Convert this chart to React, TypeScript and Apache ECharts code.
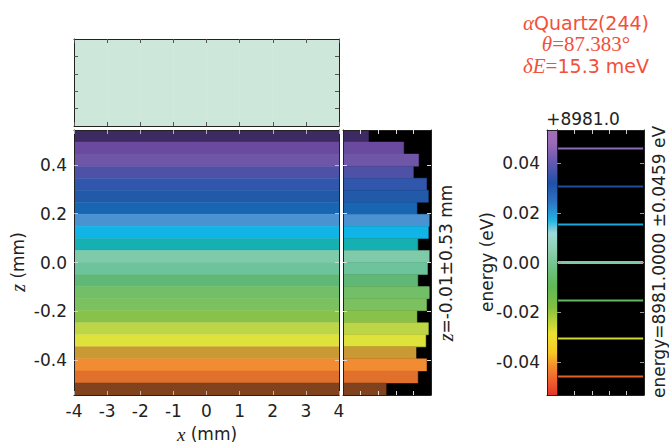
import React, { useEffect, useRef } from "react";
import * as echarts from "echarts";

// Axis limits
const xRange = [-4, 4];
const zRange = [-0.543, 0.543];
const energyRange = [-0.0533, 0.0533];
const fracRange = [0, 1];

// Tick positions
const xTicks = [-4, -3, -2, -1, 0, 1, 2, 3, 4];
const zTicks = [-0.4, -0.2, 0, 0.2, 0.4];
const energyTicks = [-0.04, -0.02, 0, 0.02, 0.04];
const fracTicks = [0.2, 0.4, 0.6, 0.8];

// Horizontal (x) histogram, normalised
const xBinEdges = [-4, -3, -2, -1, 0, 1, 2, 3, 4];
const xCounts = [1, 1, 1, 1, 1, 1, 1, 1];
const xHistColor = "#cde8da";

// Vertical (z) histogram, bins listed from top to bottom, normalised
const zCounts = [
  0.29, 0.69, 0.86, 0.8, 0.95, 0.97, 0.84, 0.98, 0.97, 0.85, 0.98,
  0.96, 0.85, 0.98, 0.95, 0.84, 0.97, 0.94, 0.83, 0.95, 0.85, 0.49,
];
const zColors = [
  "#3e2a62", "#6a4a9f", "#6f56a7", "#4f51a6", "#3057ab", "#2259a9",
  "#1865b2", "#4a92d2", "#11b4e6", "#14b0b2", "#7ecaa9", "#6dc39b",
  "#5fb876", "#72bf68", "#7bc160", "#89c24b", "#bdd647", "#dee23b",
  "#c99a33", "#f28c33", "#e0702c", "#80431d",
];

// Energy lines (eV relative to 8981.0)
const energies = [0.0459, 0.0306, 0.0153, 0, -0.0153, -0.0306, -0.0459];
const energyColors = [
  "#8c6cb8", "#1f4f9e", "#1ba9dd", "#7cc9a2", "#62b862", "#cfd833", "#e0622a",
];

// Colour bar stops, from the lowest to the highest energy
const colorbarOffsets = [0, 0.05, 0.11, 0.16, 0.23, 0.33, 0.41, 0.48, 0.55, 0.61, 0.66, 0.73, 0.8, 0.885, 0.95, 1];
const colorbarColors = [
  "#e3362a", "#ef5d2e", "#f28f2c", "#f8c824", "#ece231", "#84c040",
  "#5fb856", "#70c184", "#8fd0b2", "#9fd8d6", "#22b2e2", "#2f72c0",
  "#2050a8", "#6a5ab0", "#9a6ab8", "#a070ba",
];

const SANS = "DejaVu Sans";
const SERIF = "Liberation Serif";
const TITLE = "#f2503a";

const zStep = (zRange[1] - zRange[0]) / zCounts.length;
const zBins = zCounts.map((c, i) => [zRange[1] - i * zStep, zRange[1] - (i + 1) * zStep, c]);
const xBins = xCounts.map((c, i) => [xBinEdges[i], xBinEdges[i + 1], c]);

const border = { show: true, onZero: false, lineStyle: { color: "#222", width: 1 } };

function axis(gridIndex: number, position: string, range: number[], tickValues: number[], tickColor: string, extra: any = {}) {
  return {
    type: "value",
    gridIndex,
    position,
    min: range[0],
    max: range[1],
    z: 5,
    axisLine: border,
    splitLine: { show: false },
    axisTick: {
      show: tickValues.length > 0,
      inside: true,
      length: 4,
      customValues: tickValues,
      lineStyle: { color: tickColor, width: 1 },
    },
    axisLabel: { show: false },
    ...extra,
  };
}

export default function App() {
  const ref = useRef<HTMLDivElement>(null);

  useEffect(() => {
    if (!ref.current) return;
    const chart = echarts.init(ref.current, undefined, { renderer: "svg" });

    const tickLabel = (digits: number, values: number[]) => ({
      show: true,
      customValues: values,
      fontFamily: SANS,
      fontSize: 17,
      color: "#222",
      margin: 7,
      formatter: (v: number) => v.toFixed(digits),
    });

    const rect = (p1: number[], p2: number[], color: string) => ({
      type: "rect",
      shape: { x: p1[0], y: p1[1], width: p2[0] - p1[0], height: p2[1] - p1[1] },
      style: { fill: color, stroke: color, lineWidth: 0.5 },
    });

    const option: any = {
      animation: false,
      backgroundColor: "#fff",
      grid: [
        { left: 74, top: 39, width: 265, height: 87, outerBoundsMode: "none" },
        { left: 74, top: 130, width: 265, height: 265, outerBoundsMode: "none" },
        { left: 343, top: 130, width: 88, height: 265, show: true, backgroundColor: "#000", borderWidth: 0, outerBoundsMode: "none" },
        { left: 547, top: 130, width: 10, height: 265, outerBoundsMode: "none" },
        { left: 557, top: 130, width: 87, height: 265, show: true, backgroundColor: "#000", borderWidth: 0, outerBoundsMode: "none" },
      ],
      xAxis: [
        axis(0, "bottom", xRange, xTicks, "#555"),
        axis(0, "top", xRange, xTicks, "#555"),
        axis(1, "bottom", xRange, xTicks, "rgba(230,230,230,0.7)", { axisLabel: tickLabel(0, xTicks) }),
        axis(1, "top", xRange, xTicks, "rgba(230,230,230,0.7)"),
        axis(2, "bottom", fracRange, fracTicks, "#ddd"),
        axis(2, "top", fracRange, fracTicks, "#ddd"),
        axis(3, "bottom", fracRange, [], "#555"),
        axis(3, "top", fracRange, [], "#555"),
        axis(4, "bottom", fracRange, fracTicks, "#ccc"),
        axis(4, "top", fracRange, fracTicks, "#ccc"),
      ],
      yAxis: [
        axis(0, "left", fracRange, fracTicks, "#555"),
        axis(0, "right", fracRange, fracTicks, "#555"),
        axis(1, "left", zRange, zTicks, "rgba(230,230,230,0.7)", { axisLabel: tickLabel(1, zTicks) }),
        axis(1, "right", zRange, zTicks, "rgba(230,230,230,0.7)"),
        axis(2, "left", zRange, zTicks, "#ddd"),
        axis(2, "right", zRange, zTicks, "#ddd"),
        axis(3, "left", energyRange, [], "#555", { axisLabel: tickLabel(2, energyTicks) }),
        axis(3, "right", energyRange, [], "#555"),
        axis(4, "left", energyRange, energyTicks, "#999"),
        axis(4, "right", energyRange, energyTicks, "#999"),
      ],
      series: [
        {
          type: "custom",
          name: "x histogram",
          xAxisIndex: 0,
          yAxisIndex: 0,
          clip: true,
          data: xBins,
          renderItem: (params: any, api: any) =>
            rect(api.coord([api.value(0), api.value(2)]), api.coord([api.value(1), 0]), xHistColor),
        },
        {
          type: "custom",
          name: "beam image",
          xAxisIndex: 2,
          yAxisIndex: 2,
          clip: true,
          data: zBins,
          renderItem: (params: any, api: any) =>
            rect(api.coord([xRange[0], api.value(0)]), api.coord([xRange[1], api.value(1)]), zColors[params.dataIndex]),
        },
        {
          type: "custom",
          name: "z histogram",
          xAxisIndex: 4,
          yAxisIndex: 4,
          clip: true,
          data: zBins.map((b) => [b[2], b[0], b[1]]),
          renderItem: (params: any, api: any) =>
            rect(api.coord([0, api.value(1)]), api.coord([api.value(0), api.value(2)]), zColors[params.dataIndex]),
        },
        {
          type: "custom",
          name: "colour bar",
          xAxisIndex: 6,
          yAxisIndex: 6,
          clip: true,
          data: [[0, energyRange[1]]],
          renderItem: (params: any, api: any) => {
            const p1 = api.coord([0, energyRange[1]]);
            const p2 = api.coord([1, energyRange[0]]);
            return {
              type: "rect",
              shape: { x: p1[0], y: p1[1], width: p2[0] - p1[0], height: p2[1] - p1[1] },
              style: {
                fill: {
                  type: "linear",
                  x: 0, y: 1, x2: 0, y2: 0,
                  colorStops: colorbarOffsets.map((o, i) => ({ offset: o, color: colorbarColors[i] })),
                },
              },
            };
          },
        },
        {
          type: "custom",
          name: "energy lines",
          xAxisIndex: 8,
          yAxisIndex: 8,
          clip: true,
          data: energies.map((e) => [0, e]),
          renderItem: (params: any, api: any) => {
            const e = api.value(1);
            const p1 = api.coord([0.01, e]);
            const p2 = api.coord([0.99, e]);
            return {
              type: "line",
              shape: { x1: p1[0], y1: p1[1], x2: p2[0], y2: p2[1] },
              style: { stroke: energyColors[params.dataIndex], lineWidth: e === 0 ? 3 : 2 },
            };
          },
        },
      ],
      graphic: [
        {
          type: "text", x: 586, y: 23,
          style: {
            text: "{g|α}{n|Quartz(244)}", align: "center", verticalAlign: "middle",
            rich: {
              g: { fontFamily: SERIF, fontStyle: "italic", fontSize: 21, fill: TITLE },
              n: { fontFamily: SANS, fontSize: 19, fill: TITLE },
            },
          },
        },
        {
          type: "text", x: 586, y: 44,
          style: {
            text: "{g|θ}{n|=87.383°}", align: "center", verticalAlign: "middle",
            rich: {
              g: { fontFamily: SERIF, fontStyle: "italic", fontSize: 21, fill: TITLE },
              n: { fontFamily: SERIF, fontSize: 21, fill: TITLE },
            },
          },
        },
        {
          type: "text", x: 586, y: 66,
          style: {
            text: "{g|δE}{e|=}{n|15.3 meV}", align: "center", verticalAlign: "middle",
            rich: {
              g: { fontFamily: SERIF, fontStyle: "italic", fontSize: 21, fill: TITLE },
              e: { fontFamily: SERIF, fontSize: 21, fill: TITLE },
              n: { fontFamily: SANS, fontSize: 19, fill: TITLE },
            },
          },
        },
        {
          type: "text", x: 583, y: 119,
          style: { text: "+8981.0", align: "center", verticalAlign: "middle", fontFamily: SANS, fontSize: 17, fill: "#222" },
        },
        {
          type: "text", x: 207, y: 434,
          style: {
            text: "{i|x}{n| (mm)}", align: "center", verticalAlign: "middle",
            rich: {
              i: { fontFamily: SERIF, fontStyle: "italic", fontSize: 19, fill: "#222" },
              n: { fontFamily: SANS, fontSize: 17, fill: "#222" },
            },
          },
        },
        {
          type: "text", x: 18, y: 262, rotation: Math.PI / 2,
          style: {
            text: "{i|z}{n| (mm)}", align: "center", verticalAlign: "middle",
            rich: {
              i: { fontFamily: SERIF, fontStyle: "italic", fontSize: 20, fill: "#222" },
              n: { fontFamily: SANS, fontSize: 17, fill: "#222" },
            },
          },
        },
        {
          type: "text", x: 446, y: 263, rotation: Math.PI / 2,
          style: {
            text: "{i|z}{n|=-0.01±0.53 mm}", align: "center", verticalAlign: "middle",
            rich: {
              i: { fontFamily: SERIF, fontStyle: "italic", fontSize: 20, fill: "#222" },
              n: { fontFamily: SANS, fontSize: 17, fill: "#222" },
            },
          },
        },
        {
          type: "text", x: 487, y: 262, rotation: Math.PI / 2,
          style: { text: "energy (eV)", align: "center", verticalAlign: "middle", fontFamily: SANS, fontSize: 17, fill: "#222" },
        },
        {
          type: "text", x: 659, y: 262, rotation: Math.PI / 2,
          style: { text: "energy=8981.0000 ±0.0459 eV", align: "center", verticalAlign: "middle", fontFamily: SANS, fontSize: 17, fill: "#222" },
        },
      ],
    };

    chart.setOption(option);
    return () => chart.dispose();
  }, []);

  return <div ref={ref} style={{ position: "fixed", left: 0, top: 0, width: 669, height: 446 }} />;
}
